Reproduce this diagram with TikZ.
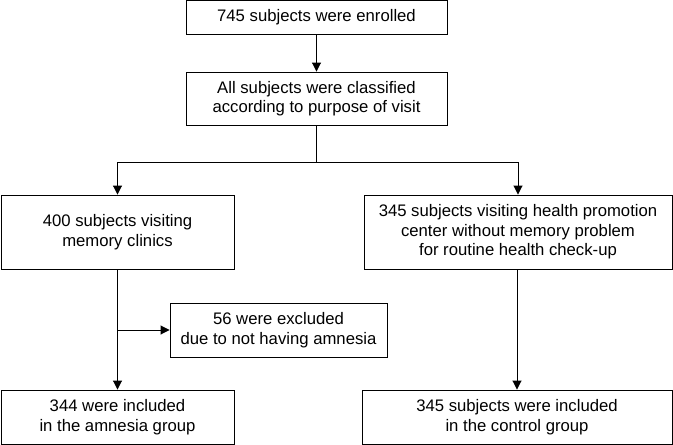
\documentclass[tikz,border=0pt]{standalone}
\usepackage{fontspec}
\setmainfont{Liberation Sans}
\usetikzlibrary{arrows.meta}
\begin{document}
\begin{tikzpicture}[x=1pt,y=-1pt,
  box/.style={draw=black,line width=0.9pt,fill=white,inner sep=0pt,align=center,
    font=\fontsize{16.7}{19.5}\selectfont},
  conn/.style={line width=0.9pt},
  arr/.style={conn,-{Triangle[length=9pt,width=9pt]}}]
\useasboundingbox (0,0) rectangle (673,445);
\node[box,minimum width=261,minimum height=33.5] (enr) at (316.5,17.2) {745 subjects were enrolled};
\node[box,minimum width=261,minimum height=53] (cls) at (316.5,98.5) {All subjects were classified\\according to purpose of visit};
\node[box,minimum width=233,minimum height=74] (mem) at (117.5,232) {400 subjects visiting\\memory clinics};
\node[box,minimum width=308,minimum height=74] (hpc) at (518,232) {345 subjects visiting health promotion\\center without memory problem\\for routine health check-up};
\node[box,minimum width=217,minimum height=54] (exc) at (278.5,330) {56 were excluded\\due to not having amnesia};
\node[box,minimum width=233,minimum height=54] (amn) at (117.5,417) {344 were included\\in the amnesia group};
\node[box,minimum width=310,minimum height=54] (ctl) at (517,417) {345 subjects were included\\in the control group};
\coordinate (split) at (316.5,162);
\coordinate (sl) at (117.5,162);
\coordinate (sr) at (518,162);
\coordinate (br) at (117.5,330);
\draw[arr] (enr) -- (cls);
\draw[conn] (cls) -- (split);
\draw[conn] (sl) -- (sr);
\draw[arr] (sl) -- (mem);
\draw[arr] (sr) -- (hpc);
\draw[arr] (mem) -- (amn);
\draw[arr] (br) -- (exc);
\draw[arr] (hpc.south -| ctl.north) -- (ctl);
\end{tikzpicture}
\end{document}
